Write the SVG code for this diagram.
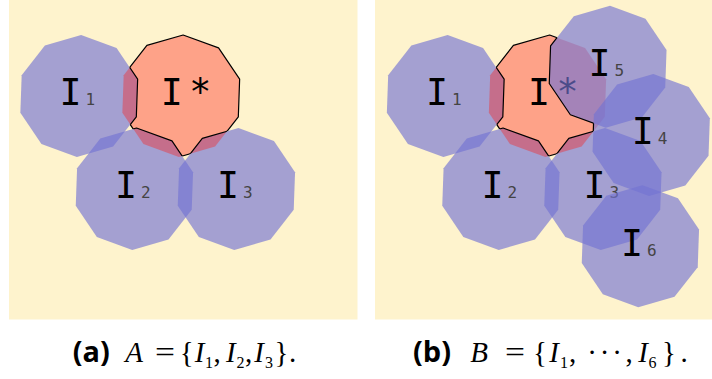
<svg xmlns="http://www.w3.org/2000/svg" xmlns:xlink="http://www.w3.org/1999/xlink" width="712" height="379" viewBox="0 0 712 379">
<style>
.bg{fill:#FEF3CD}
.blue{fill:#7373D2;fill-opacity:0.65}
.red{fill:#FF1812;fill-opacity:0.37}
.ol{fill:none;stroke:#000;stroke-width:1.2;stroke-linejoin:round}
.lbl{font-family:"DejaVu Sans Mono",monospace;font-size:36.6px;text-anchor:middle;fill:#000}
.sub{font-family:"DejaVu Sans Mono",monospace;font-size:16px;text-anchor:middle;fill:#444}
.capb{font-family:"Open Sans","Liberation Sans",sans-serif;font-weight:bold;font-size:28px;fill:#000}
.mi{font-family:"Liberation Serif",serif;font-style:italic;font-size:29px;text-anchor:middle;fill:#000}
.mr{font-family:"Liberation Serif",serif;font-size:29px;text-anchor:middle;fill:#000}
.ms{font-family:"Liberation Serif",serif;font-size:16px;text-anchor:middle;fill:#000}
</style>
<defs>
<polygon id="dec" points="2.13,-60.96 37.56,-48.07 58.64,-16.81 57.32,20.86 34.11,50.57 -2.13,60.96 -37.56,48.07 -58.64,16.81 -57.32,-20.86 -34.11,-50.57"/>
<clipPath id="clipA"><use href="#dec" x="181" y="96"/></clipPath>
<clipPath id="clipB"><use href="#dec" x="547.5" y="96"/></clipPath>
<mask id="mA" maskUnits="userSpaceOnUse" x="0" y="0" width="712" height="379"><rect width="712" height="379" fill="#fff"/><use href="#dec" x="79" y="96" fill="#000"/><use href="#dec" x="134.4" y="189" fill="#000"/><use href="#dec" x="236.4" y="189" fill="#000"/></mask>
<mask id="mA1" maskUnits="userSpaceOnUse" x="0" y="0" width="712" height="379"><rect width="712" height="379" fill="#fff"/><use href="#dec" x="134.4" y="189" fill="#000"/><use href="#dec" x="236.4" y="189" fill="#000"/></mask>
<mask id="mA2" maskUnits="userSpaceOnUse" x="0" y="0" width="712" height="379"><rect width="712" height="379" fill="#fff"/><use href="#dec" x="79" y="96" fill="#000"/><use href="#dec" x="236.4" y="189" fill="#000"/></mask>
<mask id="mA3" maskUnits="userSpaceOnUse" x="0" y="0" width="712" height="379"><rect width="712" height="379" fill="#fff"/><use href="#dec" x="79" y="96" fill="#000"/><use href="#dec" x="134.4" y="189" fill="#000"/></mask>
<mask id="mB" maskUnits="userSpaceOnUse" x="0" y="0" width="712" height="379"><rect width="712" height="379" fill="#fff"/><use href="#dec" x="445.5" y="96" fill="#000"/><use href="#dec" x="500.9" y="189" fill="#000"/><use href="#dec" x="602.9" y="189" fill="#000"/><use href="#dec" x="607.9" y="66.7" fill="#000"/><use href="#dec" x="651.2" y="135" fill="#000"/></mask>
<mask id="mB1" maskUnits="userSpaceOnUse" x="0" y="0" width="712" height="379"><rect width="712" height="379" fill="#fff"/><use href="#dec" x="500.9" y="189" fill="#000"/><use href="#dec" x="602.9" y="189" fill="#000"/><use href="#dec" x="607.9" y="66.7" fill="#000"/><use href="#dec" x="651.2" y="135" fill="#000"/></mask>
<mask id="mB2" maskUnits="userSpaceOnUse" x="0" y="0" width="712" height="379"><rect width="712" height="379" fill="#fff"/><use href="#dec" x="445.5" y="96" fill="#000"/><use href="#dec" x="602.9" y="189" fill="#000"/><use href="#dec" x="607.9" y="66.7" fill="#000"/><use href="#dec" x="651.2" y="135" fill="#000"/></mask>
<mask id="mB3" maskUnits="userSpaceOnUse" x="0" y="0" width="712" height="379"><rect width="712" height="379" fill="#fff"/><use href="#dec" x="445.5" y="96" fill="#000"/><use href="#dec" x="500.9" y="189" fill="#000"/><use href="#dec" x="607.9" y="66.7" fill="#000"/><use href="#dec" x="651.2" y="135" fill="#000"/></mask>
<mask id="mB5" maskUnits="userSpaceOnUse" x="0" y="0" width="712" height="379"><rect width="712" height="379" fill="#fff"/><use href="#dec" x="445.5" y="96" fill="#000"/><use href="#dec" x="500.9" y="189" fill="#000"/><use href="#dec" x="602.9" y="189" fill="#000"/><use href="#dec" x="651.2" y="135" fill="#000"/></mask>
<mask id="mB4" maskUnits="userSpaceOnUse" x="0" y="0" width="712" height="379"><rect width="712" height="379" fill="#fff"/><use href="#dec" x="445.5" y="96" fill="#000"/><use href="#dec" x="500.9" y="189" fill="#000"/><use href="#dec" x="602.9" y="189" fill="#000"/><use href="#dec" x="607.9" y="66.7" fill="#000"/></mask>
</defs>
<rect width="712" height="379" fill="#fff"/>

<!-- Panel (a) -->
<rect class="bg" x="9" y="0" width="348.5" height="319.5"/>
<g id="a-I1"><use href="#dec" x="79" y="96" class="blue"/><text class="lbl" x="70.5" y="105">I</text><text class="sub" x="90.3" y="105">1</text></g>
<g id="a-I2"><use href="#dec" x="134.4" y="189" class="blue"/><text class="lbl" x="125.9" y="198.2">I</text><text class="sub" x="145.7" y="198.2">2</text></g>
<g id="a-I3"><use href="#dec" x="236.4" y="189" class="blue"/><text class="lbl" x="227.9" y="198.2">I</text><text class="sub" x="247.7" y="198.2">3</text></g>
<g id="a-Istar"><use href="#dec" x="181" y="96" class="red"/><text class="lbl" x="171.8" y="105">I</text><text class="lbl" x="200.3" y="105">*</text>
<g mask="url(#mA)"><use href="#dec" x="181" y="96" class="ol"/></g>
<g clip-path="url(#clipA)">
<g mask="url(#mA1)"><use href="#dec" x="79" y="96" class="ol"/></g>
<g mask="url(#mA2)"><use href="#dec" x="134.4" y="189" class="ol"/></g>
<g mask="url(#mA3)"><use href="#dec" x="236.4" y="189" class="ol"/></g>
</g>
</g>

<!-- Panel (b) -->
<rect class="bg" x="375" y="0" width="337" height="319.5"/>
<g id="b-I1"><use href="#dec" x="445.5" y="96" class="blue"/><text class="lbl" x="437" y="105">I</text><text class="sub" x="456.8" y="105">1</text></g>
<g id="b-I2"><use href="#dec" x="500.9" y="189" class="blue"/><text class="lbl" x="492.4" y="198.2">I</text><text class="sub" x="512.2" y="198.2">2</text></g>
<g id="b-I3"><use href="#dec" x="602.9" y="189" class="blue"/><text class="lbl" x="594.4" y="198.2">I</text><text class="sub" x="614.2" y="198.2">3</text></g>
<g id="b-Istar"><use href="#dec" x="547.5" y="96" class="red"/><text class="lbl" x="539" y="105">I</text><text class="lbl" x="567.6" y="105">*</text></g>
<g id="b-I5"><use href="#dec" x="607.9" y="66.7" class="blue"/><text class="lbl" x="599.4" y="75.9">I</text><text class="sub" x="619.2" y="75.9">5</text></g>
<g id="b-I4"><use href="#dec" x="651.2" y="135" class="blue"/><text class="lbl" x="642.7" y="144.2">I</text><text class="sub" x="662.5" y="144.2">4</text></g>
<g id="b-I6"><use href="#dec" x="640.4" y="246.3" class="blue"/><text class="lbl" x="631.9" y="255.5">I</text><text class="sub" x="651.7" y="255.5">6</text></g>
<g id="b-Istar-outline">
<g mask="url(#mB)"><use href="#dec" x="547.5" y="96" class="ol"/></g>
<g clip-path="url(#clipB)">
<g mask="url(#mB1)"><use href="#dec" x="445.5" y="96" class="ol"/></g>
<g mask="url(#mB2)"><use href="#dec" x="500.9" y="189" class="ol"/></g>
<g mask="url(#mB3)"><use href="#dec" x="602.9" y="189" class="ol"/></g>
<g mask="url(#mB5)"><use href="#dec" x="607.9" y="66.7" class="ol"/></g>
<g mask="url(#mB4)"><use href="#dec" x="651.2" y="135" class="ol"/></g>
</g>
</g>

<!-- Captions -->
<g id="caption-a">
<text class="capb" x="72.7" y="361.5" textLength="37" lengthAdjust="spacingAndGlyphs">(a)</text>
<text class="mi" x="134" y="361.5">A</text>
<text class="mr" x="165" y="361.5" textLength="20" lengthAdjust="spacingAndGlyphs">=</text>
<text class="mr" x="186.7" y="361.5">{</text>
<text class="mi" x="199.5" y="361.5">I</text><text class="ms" x="209" y="368">1</text>
<text class="mr" x="217" y="361.5">,</text>
<text class="mi" x="230.8" y="361.5">I</text><text class="ms" x="240.5" y="368">2</text>
<text class="mr" x="248.5" y="361.5">,</text>
<text class="mi" x="259.2" y="361.5">I</text><text class="ms" x="269" y="368">3</text>
<text class="mr" x="281.5" y="361.5">}</text>
<text class="mr" x="292.5" y="361.5">.</text>
</g>
<g id="caption-b">
<text class="capb" x="413" y="361.5" textLength="38" lengthAdjust="spacingAndGlyphs">(b)</text>
<text class="mi" x="479" y="361.5">B</text>
<text class="mr" x="515" y="361.5" textLength="20" lengthAdjust="spacingAndGlyphs">=</text>
<text class="mr" x="540" y="361.5">{</text>
<text class="mi" x="554" y="361.5">I</text><text class="ms" x="564" y="368">1</text>
<text class="mr" x="572.5" y="361.5">,</text>
<text class="mr" x="592 604.5 617" y="361.5">···</text>
<text class="mr" x="629" y="361.5">,</text>
<text class="mi" x="643" y="361.5">I</text><text class="ms" x="652.5" y="368">6</text>
<text class="mr" x="669" y="361.5">}</text>
<text class="mr" x="684" y="361.5">.</text>
</g>
</svg>
